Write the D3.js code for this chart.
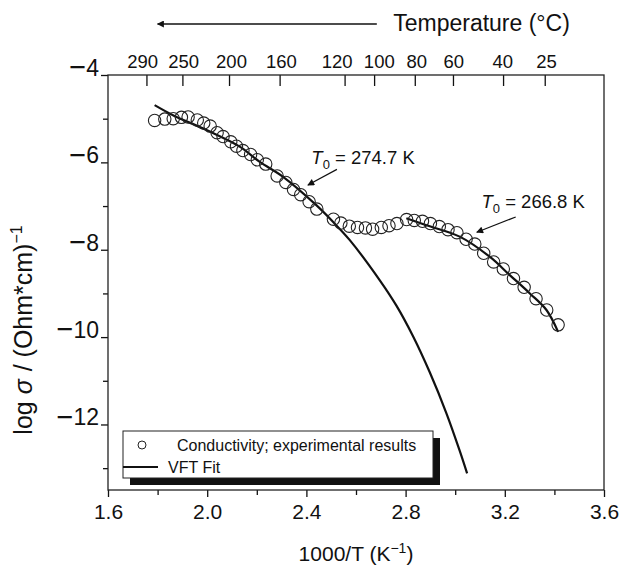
<!DOCTYPE html>
<html>
<head>
<meta charset="utf-8">
<script src="https://cdn.jsdelivr.net/npm/d3@7"></script>
<style>
  body { margin: 0; background: #fff; }
  text { font-family: "Liberation Sans", Arial, Helvetica, sans-serif; fill: #111; }
</style>
</head>
<body>
<div id="chart"></div>
<script>
// measured conductivity, x = 1000/T (1/K), y = log sigma
var expX = [1.788, 1.829, 1.863, 1.896, 1.923, 1.960, 1.986, 2.012, 2.040, 2.064,
            2.095, 2.118, 2.144, 2.175, 2.202, 2.236, 2.282, 2.317, 2.348, 2.377,
            2.411, 2.442, 2.509, 2.539, 2.573, 2.606, 2.638, 2.667, 2.702, 2.733,
            2.765, 2.804, 2.835, 2.868, 2.900, 2.936, 2.971, 3.007, 3.044, 3.079,
            3.115, 3.155, 3.194, 3.235, 3.278, 3.326, 3.369, 3.415];
var expY = [-5.04, -5.01, -5.00, -4.97, -4.96, -5.03, -5.10, -5.17, -5.32, -5.41,
            -5.53, -5.63, -5.73, -5.82, -5.94, -6.04, -6.31, -6.46, -6.62, -6.74,
            -6.90, -7.07, -7.30, -7.39, -7.46, -7.49, -7.50, -7.53, -7.49, -7.45,
            -7.40, -7.31, -7.33, -7.35, -7.40, -7.47, -7.54, -7.61, -7.76, -7.87,
            -8.08, -8.28, -8.44, -8.66, -8.86, -9.12, -9.38, -9.72];

// VFT fit, high temperature branch (T0 = 274.7 K)
var fit1X = [1.788, 1.862, 1.997, 2.131, 2.212, 2.306, 2.440, 2.507, 2.575,
             2.696, 2.763, 2.830, 2.897, 2.965, 3.018, 3.048];
var fit1Y = [-4.69, -4.92, -5.26, -5.64, -5.99, -6.33, -6.98, -7.36, -7.78,
             -8.70, -9.28, -9.98, -10.80, -11.75, -12.60, -13.12];

// VFT fit, low temperature branch (T0 = 266.8 K)
var fit2X = [2.803, 2.884, 3.018, 3.139, 3.220, 3.301, 3.368, 3.415];
var fit2Y = [-7.28, -7.44, -7.70, -8.16, -8.58, -9.00, -9.38, -9.88];

// axis ticks
var xTicks = [1.6, 2.0, 2.4, 2.8, 3.2, 3.6];
var xMinor = [1.8, 2.2, 2.6, 3.0, 3.4];
var yTicks = [-4, -6, -8, -10, -12];
var yMinor = [-5, -7, -9, -11, -13];
// top scale: temperature labels, tick marks and label centres in 1000/T units
var topTemps = [290, 250, 200, 160, 120, 100, 80, 60, 40, 25];
var topTickPos = [1.755, 1.900, 2.088, 2.292, 2.554, 2.673, 2.837, 2.991, 3.193, 3.361];
var topLabelPos = [1.740, 1.905, 2.098, 2.299, 2.524, 2.694, 2.845, 2.994, 3.192, 3.368];

var legendLabels = ["Conductivity; experimental results", "VFT Fit"];

var width = 636, height = 568;
var margin = {top: 75, right: 32, bottom: 78, left: 108};
var plotW = width - margin.left - margin.right,
    plotH = height - margin.top - margin.bottom;

var svg = d3.select("#chart")
  .append("svg")
  .attr("width", width)
  .attr("height", height);

svg.append("rect").attr("width", width).attr("height", height).attr("fill", "#fff");

var defs = svg.append("defs");
defs.append("marker")
  .attr("id", "head")
  .attr("viewBox", "0 0 10 10")
  .attr("refX", 9).attr("refY", 5)
  .attr("markerWidth", 10).attr("markerHeight", 7)
  .attr("markerUnits", "userSpaceOnUse")
  .attr("orient", "auto")
  .append("path")
  .attr("d", "M0,0 L10,5 L0,10 z")
  .attr("fill", "#111");

var g = svg.append("g")
  .attr("transform", "translate(" + margin.left + "," + margin.top + ")");

var x = d3.scaleLinear().domain([1.6, 3.6]).range([0, plotW]);
var y = d3.scaleLinear().domain([-13.5, -4]).range([plotH, 0]);

// bottom axis
var xAxis = g.append("g")
  .attr("transform", "translate(0," + plotH + ")")
  .call(d3.axisBottom(x).tickValues(xTicks).tickFormat(d3.format(".1f"))
        .tickSize(7).tickPadding(6));
g.append("g")
  .attr("transform", "translate(0," + plotH + ")")
  .call(d3.axisBottom(x).tickValues(xMinor).tickFormat("").tickSize(5).tickSizeOuter(0));

// left axis, minus sign drawn a bit wider like the original
var yAxis = g.append("g")
  .call(d3.axisLeft(y).tickValues(yTicks).tickFormat("")
        .tickSize(7).tickPadding(2));
yAxis.selectAll(".tick text").each(function(d) {
  var t = d3.select(this);
  t.append("tspan").attr("font-size", 29).attr("dy", "0.06em").text("\u2212");
  t.append("tspan").attr("font-size", 23).attr("dy", "-0.06em").text(Math.abs(d));
});
g.append("g")
  .call(d3.axisLeft(y).tickValues(yMinor).tickFormat("").tickSize(5).tickSizeOuter(0));

// top axis in temperature (ticks point inwards)
var topAxis = g.append("g")
  .call(d3.axisTop(x).tickValues(topTickPos).tickFormat("")
        .tickSizeInner(-11).tickSizeOuter(0));
g.append("g")
  .selectAll("text")
  .data(topTemps)
  .enter()
  .append("text")
  .attr("x", function(d, i) { return x(topLabelPos[i]); })
  .attr("y", -7)
  .attr("text-anchor", "middle")
  .attr("font-size", 18.5)
  .text(function(d) { return d; });

g.selectAll(".domain").remove();
g.selectAll(".tick line").attr("stroke", "#111").attr("stroke-width", 1.3);
xAxis.selectAll("text").attr("font-size", 21).attr("dy", "0.78em");
g.selectAll(".tick text").attr("fill", "#111")
  .attr("font-family", "'Liberation Sans', Arial, sans-serif");

// frame
g.append("rect")
  .attr("width", plotW).attr("height", plotH)
  .attr("fill", "none").attr("stroke", "#222").attr("stroke-width", 1.3);

// fit lines
var line = d3.line()
  .x(function(d) { return x(d[0]); })
  .y(function(d) { return y(d[1]); })
  .curve(d3.curveCatmullRom);

[[fit1X, fit1Y], [fit2X, fit2Y]].forEach(function(f) {
  g.append("path")
    .datum(d3.zip(f[0], f[1]))
    .attr("d", line)
    .attr("fill", "none")
    .attr("stroke", "#111")
    .attr("stroke-width", 2.2);
});

// experimental points
g.append("g")
  .selectAll("circle")
  .data(d3.zip(expX, expY))
  .enter()
  .append("circle")
  .attr("cx", function(d) { return x(d[0]); })
  .attr("cy", function(d) { return y(d[1]); })
  .attr("r", 6.2)
  .attr("fill", "none")
  .attr("stroke", "#222")
  .attr("stroke-width", 1.1);

// T0 annotations
var notes = [
  {label: "274.7 K", tx: 2.420, ty: -6.04, ax1: 2.523, ay1: -6.16, ax2: 2.406, ay2: -6.52},
  {label: "266.8 K", tx: 3.106, ty: -7.05, ax1: 3.244, ay1: -7.25, ax2: 3.087, ay2: -7.60}
];
notes.forEach(function(n) {
  var t = g.append("text")
    .attr("x", x(n.tx)).attr("y", y(n.ty))
    .attr("font-size", 18.5);
  t.append("tspan").attr("font-style", "italic").text("T");
  t.append("tspan").attr("font-size", 13).attr("dy", 5).text("0");
  t.append("tspan").attr("dy", -5).text(" = " + n.label);
  g.append("line")
    .attr("x1", x(n.ax1)).attr("y1", y(n.ay1))
    .attr("x2", x(n.ax2)).attr("y2", y(n.ay2))
    .attr("stroke", "#111").attr("stroke-width", 1.2)
    .attr("marker-end", "url(#head)");
});

// temperature arrow above the top axis
svg.append("line")
  .attr("x1", margin.left + x(2.684)).attr("y1", 24)
  .attr("x2", margin.left + x(1.80)).attr("y2", 24)
  .attr("stroke", "#111").attr("stroke-width", 1.3)
  .attr("marker-end", "url(#head)");
svg.append("text")
  .attr("x", margin.left + x(2.75)).attr("y", 31)
  .attr("font-size", 23)
  .text("Temperature (\u00b0C)");

// axis titles
var xt = svg.append("text")
  .attr("x", margin.left + plotW / 2).attr("y", 561)
  .attr("text-anchor", "middle")
  .attr("font-size", 21);
xt.append("tspan").text("1000/T (K");
xt.append("tspan").attr("font-size", 14).attr("dy", -8).text("\u22121");
xt.append("tspan").attr("dy", 8).text(")");

var yt = svg.append("text")
  .attr("transform", "translate(32,330) rotate(-90)")
  .attr("text-anchor", "middle")
  .attr("font-size", 25);
yt.append("tspan").text("log ");
yt.append("tspan").attr("font-style", "italic").text("\u03c3");
yt.append("tspan").attr("dx", 1).text(" / (Ohm*cm)");
yt.append("tspan").attr("font-size", 16).attr("dy", -10).text("\u22121");

// legend with drop shadow
var lg = g.append("g").attr("transform", "translate(15," + (plotH - 59) + ")");
lg.append("rect").attr("x", 7).attr("y", 7).attr("width", 310).attr("height", 47)
  .attr("fill", "#111");
lg.append("rect").attr("width", 310).attr("height", 47)
  .attr("fill", "#fff").attr("stroke", "#222").attr("stroke-width", 1);
lg.append("circle").attr("cx", 19).attr("cy", 14).attr("r", 4)
  .attr("fill", "none").attr("stroke", "#222").attr("stroke-width", 1);
lg.append("text").attr("x", 54).attr("y", 20).attr("font-size", 16).text(legendLabels[0]);
lg.append("line").attr("x1", 0).attr("x2", 35).attr("y1", 36).attr("y2", 36)
  .attr("stroke", "#111").attr("stroke-width", 2.2);
lg.append("text").attr("x", 45).attr("y", 42).attr("font-size", 16).text(legendLabels[1]);
</script>
</body>
</html>
